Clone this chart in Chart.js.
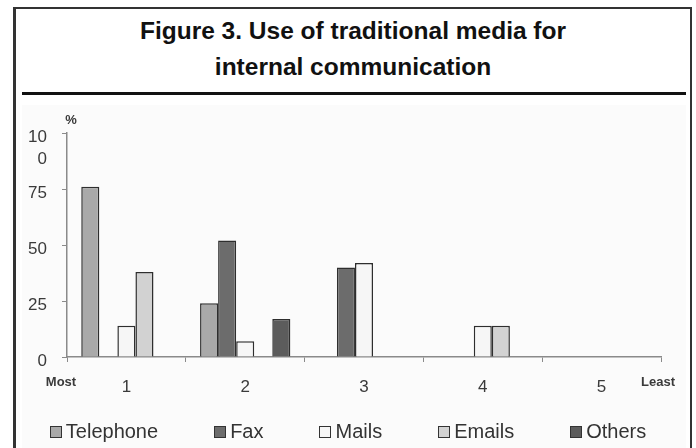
<!DOCTYPE html>
<html>
<head>
<meta charset="utf-8">
<script src="https://cdn.jsdelivr.net/npm/chart.js@4.4.1/dist/chart.umd.min.js"></script>
<style>
  body { margin: 0; background: #fff; width: 696px; height: 448px; overflow: hidden; position: relative; }
  .frame { position: absolute; left: 13px; top: 7px; width: 674px; height: 460px;
           border-left: 3px solid #333; border-top: 2px solid #333; border-right: 2px solid #333; }
  .title { position: absolute; left: 16px; width: 674px; top: 13px; text-align: center;
           font: bold 24.5px "Liberation Sans", Arial, sans-serif;
           line-height: 36px; color: #111; }
  .rule { position: absolute; left: 22px; top: 92px; width: 664px; height: 3px; background: #111; }
  .panel { position: absolute; left: 22px; top: 105px; width: 664px; height: 343px; background: #fbfbfb; }
  #chart { position: absolute; left: 0; top: 0; filter: blur(0.5px); }
  #legend { position: absolute; left: 0; width: 696px; top: 420px; display: flex; justify-content: center;
            gap: 56px; font: 20px "Liberation Sans", Arial, sans-serif; color: #333; filter: blur(0.5px); }
  #legend span.item { display: flex; align-items: center; }
  #legend span.box { width: 10px; height: 10px; border: 1.5px solid #333; margin-right: 4px; }
</style>
</head>
<body>
<div class="frame"></div>
<div class="title">Figure 3. Use of traditional media for<br>internal communication</div>
<div class="rule"></div>
<div class="panel"></div>
<canvas id="chart" width="696" height="448"></canvas>
<div id="legend"></div>
<script>
// ranking positions, 1 = most used, 5 = least used
const ranks = ['1', '2', '3', '4', '5'];

// percentage of respondents per rank (null = no bar)
const telephone = [76, 24, null, null, null];
const fax = [null, 52, 40, null, null];
const mails = [14, 7, 42, 14, null];
const emails = [38, null, null, 14, null];
const others = [null, 17, null, null, null];

const series = [
  { label: 'Telephone', data: telephone, color: '#a9a9a9' },
  { label: 'Fax', data: fax, color: '#6c6c6c' },
  { label: 'Mails', data: mails, color: '#f6f6f6' },
  { label: 'Emails', data: emails, color: '#d2d2d2' },
  { label: 'Others', data: others, color: '#5c5c5c' }
];

const axisColor = '#8a8a8a';
const textColor = '#3a3a3a';

// "%" over the value axis, "Most"/"Least" at both ends of the rank axis
const axisNotes = {
  id: 'axisNotes',
  afterDraw(chart) {
    const { ctx, chartArea } = chart;
    ctx.save();
    ctx.fillStyle = textColor;
    ctx.font = 'bold 13px "Liberation Sans", Arial, sans-serif';
    ctx.textBaseline = 'middle';
    ctx.textAlign = 'center';
    ctx.fillText('%', chartArea.left + 4, chartArea.top - 13);
    ctx.fillText('Most', chartArea.left - 6, chartArea.bottom + 25);
    ctx.fillText('Least', chartArea.right - 3, chartArea.bottom + 25);
    ctx.restore();
  }
};

const chart = new Chart(document.getElementById('chart'), {
  type: 'bar',
  data: {
    labels: ranks,
    datasets: series.map((s) => ({
      label: s.label,
      data: s.data,
      backgroundColor: s.color,
      borderColor: '#2e2e2e',
      borderWidth: 1.5,
      barPercentage: 1,
      categoryPercentage: 0.76
    }))
  },
  options: {
    responsive: false,
    devicePixelRatio: 1,
    animation: false,
    layout: { padding: { left: 20, right: 35, top: 133, bottom: 51 } },
    plugins: {
      legend: { display: false },
      tooltip: { enabled: false }
    },
    scales: {
      x: {
        afterFit(scale) { scale.height = 40; },
        grid: { drawOnChartArea: false, tickLength: 5, color: axisColor, offset: true },
        border: { color: axisColor, width: 1.5 },
        ticks: { color: textColor, padding: 15, font: { size: 17, family: '"Liberation Sans", Arial, sans-serif' } }
      },
      y: {
        min: 0,
        max: 100,
        afterFit(scale) { scale.width = 47; },
        grid: { drawOnChartArea: false, tickLength: 5, color: axisColor },
        border: { color: axisColor, width: 1.5 },
        ticks: {
          stepSize: 25,
          autoSkip: false,
          color: textColor,
          padding: 15,
          labelOffset: 4,
          font: { size: 17, lineHeight: 1.3, family: '"Liberation Sans", Arial, sans-serif' },
          // the top label wraps onto two lines, under its tick
          callback: (v) => (v === 100 ? ['', '10', '0'] : String(v))
        }
      }
    }
  },
  plugins: [axisNotes]
});

// legend row built from the datasets
const legend = document.getElementById('legend');
chart.data.datasets.forEach((ds) => {
  const item = document.createElement('span');
  item.className = 'item';
  const box = document.createElement('span');
  box.className = 'box';
  box.style.background = ds.backgroundColor;
  item.appendChild(box);
  item.appendChild(document.createTextNode(ds.label));
  legend.appendChild(item);
});
</script>
</body>
</html>
